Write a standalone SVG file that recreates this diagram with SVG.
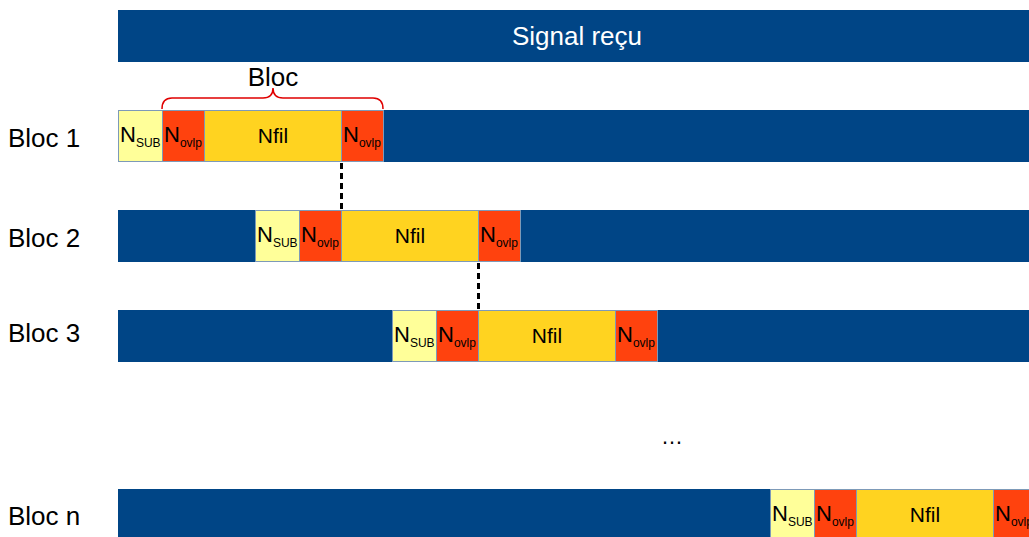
<svg xmlns="http://www.w3.org/2000/svg" width="1029" height="537" viewBox="0 0 1029 537">
<style>
text{font-family:"Liberation Sans",Arial,sans-serif;fill:#000}
.bar{fill:#004586}
.sub{fill:#ffff99;stroke:#7d9ab8;stroke-width:1}
.ov{fill:#ff420e;stroke:#7d9ab8;stroke-width:1}
.fil{fill:#ffd320;stroke:#7d9ab8;stroke-width:1}
.lbl{font-size:26px}
.n{font-size:22px}
.f{font-size:21px}
.s{font-size:12px}
.dash{stroke:#000;stroke-width:3;stroke-dasharray:6 4;fill:none}
</style>
<rect width="1029" height="537" fill="#fff"/>
<g id="signal">
<rect class="bar" x="118" y="10" width="911" height="52"/>
<text x="577" y="45" font-size="26" text-anchor="middle" style="fill:#fff">Signal reçu</text>
</g>
<g id="brace">
<path d="M162,109 Q162,98 172,98 L263,98 Q273,98 273,88 Q273,98 283,98 L373,98 Q383,98 383,109" fill="none" stroke="#e00000" stroke-width="1.5"/>
<text x="273" y="86" class="lbl" text-anchor="middle">Bloc</text>
</g>
<g id="bloc1">
<text x="8" y="147" class="lbl">Bloc 1</text>
<rect class="bar" x="118" y="110" width="911" height="52"/>
<rect class="sub" x="118.5" y="110.5" width="44" height="51"/>
<rect class="ov" x="162.5" y="110.5" width="42" height="51"/>
<rect class="fil" x="204.5" y="110.5" width="137" height="51"/>
<rect class="ov" x="341.5" y="110.5" width="42" height="51"/>
<text x="120" y="142" class="n">N<tspan class="s" dy="5">SUB</tspan></text>
<text x="164" y="142" class="n">N<tspan class="s" dy="5">ovlp</tspan></text>
<text x="273" y="143" class="f" text-anchor="middle">Nfil</text>
<text x="343" y="142" class="n">N<tspan class="s" dy="5">ovlp</tspan></text>
</g>
<g id="bloc2">
<text x="8" y="247" class="lbl">Bloc 2</text>
<rect class="bar" x="118" y="210" width="911" height="52"/>
<rect class="sub" x="255.5" y="210.5" width="44" height="51"/>
<rect class="ov" x="299.5" y="210.5" width="42" height="51"/>
<rect class="fil" x="341.5" y="210.5" width="137" height="51"/>
<rect class="ov" x="478.5" y="210.5" width="42" height="51"/>
<text x="257" y="242" class="n">N<tspan class="s" dy="5">SUB</tspan></text>
<text x="301" y="242" class="n">N<tspan class="s" dy="5">ovlp</tspan></text>
<text x="410" y="243" class="f" text-anchor="middle">Nfil</text>
<text x="480" y="242" class="n">N<tspan class="s" dy="5">ovlp</tspan></text>
</g>
<g id="bloc3">
<text x="8" y="342" class="lbl">Bloc 3</text>
<rect class="bar" x="118" y="310" width="911" height="52"/>
<rect class="sub" x="392.5" y="310.5" width="44" height="51"/>
<rect class="ov" x="436.5" y="310.5" width="42" height="51"/>
<rect class="fil" x="478.5" y="310.5" width="137" height="51"/>
<rect class="ov" x="615.5" y="310.5" width="42" height="51"/>
<text x="394" y="342" class="n">N<tspan class="s" dy="5">SUB</tspan></text>
<text x="438" y="342" class="n">N<tspan class="s" dy="5">ovlp</tspan></text>
<text x="547" y="343" class="f" text-anchor="middle">Nfil</text>
<text x="617" y="342" class="n">N<tspan class="s" dy="5">ovlp</tspan></text>
</g>
<g id="ellipsis">
<text x="661" y="444" font-size="22">…</text>
</g>
<g id="blocn">
<text x="8" y="525" class="lbl">Bloc n</text>
<rect class="bar" x="118" y="489" width="911" height="52"/>
<rect class="sub" x="770.5" y="489.5" width="44" height="51"/>
<rect class="ov" x="814.5" y="489.5" width="42" height="51"/>
<rect class="fil" x="856.5" y="489.5" width="137" height="51"/>
<rect class="ov" x="993.5" y="489.5" width="42" height="51"/>
<text x="772" y="521" class="n">N<tspan class="s" dy="5">SUB</tspan></text>
<text x="816" y="521" class="n">N<tspan class="s" dy="5">ovlp</tspan></text>
<text x="925" y="522" class="f" text-anchor="middle">Nfil</text>
<text x="995" y="521" class="n">N<tspan class="s" dy="5">ovlp</tspan></text>
</g>
<g id="connectors">
<line class="dash" x1="341.5" y1="163" x2="341.5" y2="210"/>
<line class="dash" x1="478.5" y1="263" x2="478.5" y2="310"/>
</g>
</svg>
